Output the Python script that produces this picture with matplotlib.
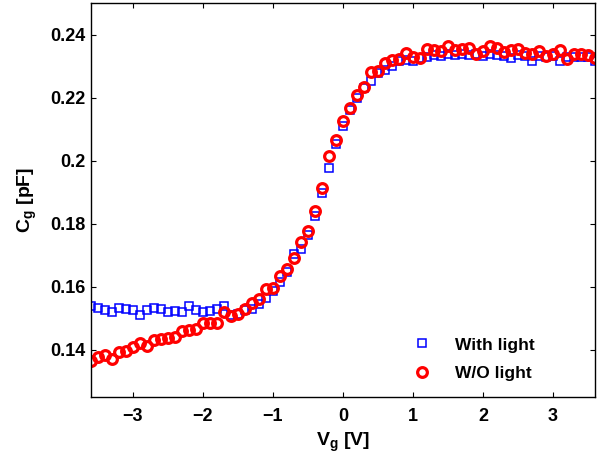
import numpy as np
import matplotlib
matplotlib.use('Agg')
import matplotlib.pyplot as plt

plt.rcParams['font.family'] = ['Liberation Sans', 'DejaVu Sans']
plt.rcParams['font.weight'] = 'bold'
plt.rcParams['mathtext.fontset'] = 'custom'
plt.rcParams['mathtext.rm'] = 'Liberation Sans:bold'
plt.rcParams['mathtext.it'] = 'Liberation Sans:bold'
plt.rcParams['mathtext.bf'] = 'Liberation Sans:bold'
plt.rcParams['mathtext.default'] = 'regular'

# gate voltage sweep [V]
vg = np.round(np.arange(-3.6, 3.65, 0.1), 1)

# gate capacitance [pF], illuminated
cg_light = [0.1538, 0.1534, 0.1527, 0.1521, 0.1534, 0.1531, 0.1527, 0.1510, 0.1527, 0.1534,
            0.1531, 0.1521, 0.1524, 0.1521, 0.1539, 0.1527, 0.1519, 0.1524, 0.1530, 0.1538,
            0.1510, 0.1513, 0.1527, 0.1530, 0.1546, 0.1565, 0.1587, 0.1616, 0.1648, 0.1703,
            0.1720, 0.1765, 0.1825, 0.1898, 0.1978, 0.2054, 0.2110, 0.2160, 0.2198, 0.2232,
            0.2253, 0.2279, 0.2289, 0.2300, 0.2316, 0.2320, 0.2316, 0.2325, 0.2330, 0.2335,
            0.2332, 0.2338, 0.2335, 0.2338, 0.2335, 0.2338, 0.2332, 0.2338, 0.2335, 0.2333,
            0.2326, 0.2335, 0.2333, 0.2316, 0.2333, 0.2330, 0.2333, 0.2316, 0.2330, 0.2330,
            0.2330, 0.2328, 0.2316]

# gate capacitance [pF], dark
cg_dark = [0.1366, 0.1377, 0.1384, 0.1372, 0.1395, 0.1398, 0.1408, 0.1422, 0.1412, 0.1432,
           0.1435, 0.1437, 0.1440, 0.1461, 0.1464, 0.1468, 0.1487, 0.1487, 0.1484, 0.1519,
           0.1508, 0.1513, 0.1531, 0.1548, 0.1563, 0.1592, 0.1597, 0.1633, 0.1658, 0.1692,
           0.1741, 0.1776, 0.1842, 0.1912, 0.2014, 0.2067, 0.2125, 0.2166, 0.2209, 0.2235,
           0.2281, 0.2284, 0.2309, 0.2319, 0.2324, 0.2342, 0.2330, 0.2326, 0.2353, 0.2350,
           0.2347, 0.2365, 0.2351, 0.2353, 0.2356, 0.2339, 0.2347, 0.2365, 0.2356, 0.2345,
           0.2351, 0.2353, 0.2342, 0.2337, 0.2347, 0.2332, 0.2339, 0.2350, 0.2324, 0.2337,
           0.2337, 0.2335, 0.2326]

xticks = [-3, -2, -1, 0, 1, 2, 3]
yticks = [0.14, 0.16, 0.18, 0.2, 0.22, 0.24]
ytick_labels = ['0.14', '0.16', '0.18', '0.2', '0.22', '0.24']

fig = plt.figure(figsize=(5.99, 4.72), dpi=100)
ax = fig.add_axes([0.1514, 0.1583, 0.8419, 0.8353])

ax.plot(vg, cg_light, 's', ms=5.2, mfc='none', mec='#0000ff', mew=1.1, label='With light')
ax.plot(vg, cg_dark, 'o', ms=7, mfc='none', mec='#ff0000', mew=2.3, label='W/O light')

ax.set_xlim(-3.6, 3.6)
ax.set_ylim(0.125, 0.25)
ax.set_xticks(xticks)
ax.set_yticks(yticks)
ax.set_yticklabels(ytick_labels)
ax.tick_params(direction='in', top=True, right=True, length=3.8, width=0.8, labelsize=13)
ax.tick_params(axis='x', pad=8)
ax.tick_params(axis='y', pad=4)
for s in ax.spines.values():
    s.set_linewidth(1.0)

ax.set_xlabel(r'V$_{g}$ [V]', fontsize=14, fontweight='bold', labelpad=4)
ax.set_ylabel(r'C$_{g}$ [pF]', fontsize=14, fontweight='bold', labelpad=8)

ax.legend(loc='center left', bbox_to_anchor=(0.64, 0.097), frameon=False, fontsize=12.5,
          handlelength=1.0, handletextpad=1.37, labelspacing=0.75, borderpad=0, borderaxespad=0)

plt.savefig('out.png', dpi=100)
